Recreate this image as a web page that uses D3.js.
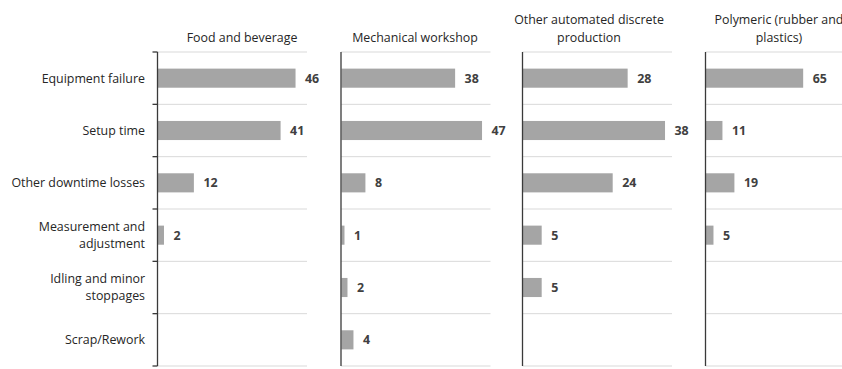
<!DOCTYPE html>
<html>
<head>
<meta charset="utf-8">
<script src="https://cdn.jsdelivr.net/npm/d3@7"></script>
<style>
  html, body { margin: 0; padding: 0; background: #fff; }
  svg { display: block; }
  text { font-family: "Open Sans", "Liberation Sans", sans-serif; }
</style>
</head>
<body>
<svg id="chart" width="842" height="369"></svg>
<script>
// Loss categories, top to bottom (line breaks as "\n")
const categories = [
  "Equipment failure",
  "Setup time",
  "Other downtime losses",
  "Measurement and\nadjustment",
  "Idling and minor\nstoppages",
  "Scrap/Rework"
];

// One panel per industry; null = no bar
const sectors = [
  "Food and beverage",
  "Mechanical workshop",
  "Other automated discrete\nproduction",
  "Polymeric (rubber and\nplastics)"
];
const foodBeverage      = [46, 41, 12, 2, null, null];
const mechanicalShop    = [38, 47, 8, 1, 2, 4];
const otherAutomated    = [28, 38, 24, 5, 5, null];
const polymeric         = [65, 11, 19, 5, null, null];
const seriesValues = [foodBeverage, mechanicalShop, otherAutomated, polymeric];

// Upper end of each panel's value axis
const axisMax = [50, 50, 40, 100];

// ---- layout ----
const plotTop = 52, plotBottom = 366;
const panelLeft = [157.5, 341, 522.5, 705.5];
const panelWidth = 149.5;
const titleCenter = [242, 415, 589, 779];

const svg = d3.select("#chart");

const y = d3.scaleBand()
  .domain(d3.range(categories.length))
  .range([plotTop, plotBottom])
  .paddingInner(0.635)
  .paddingOuter(0.3175);

const step = y.step();

// Category labels on the left
const catG = svg.append("g");
categories.forEach((c, i) => {
  const lines = c.split("\n");
  const cy = y(i) + y.bandwidth() / 2;
  const lh = 17;
  const t = catG.append("text")
    .attr("x", 145)
    .attr("text-anchor", "end")
    .attr("fill", "#262626")
    .style("font-size", "12.4px");
  lines.forEach((ln, k) => {
    t.append("tspan")
      .attr("x", 145)
      .attr("y", cy + (k - (lines.length - 1) / 2) * lh)
      .attr("dy", "0.35em")
      .text(ln);
  });
});

sectors.forEach((name, p) => {
  const x0 = panelLeft[p];
  const x = d3.scaleLinear().domain([0, axisMax[p]]).range([x0, x0 + panelWidth]);
  const g = svg.append("g");

  // horizontal gridlines at category boundaries
  const bounds = d3.range(categories.length + 1).map(i => plotTop + i * step);
  g.selectAll("line.grid").data(bounds).join("line")
    .attr("class", "grid")
    .attr("x1", x0).attr("x2", x0 + panelWidth)
    .attr("y1", d => d).attr("y2", d => d)
    .attr("stroke", "#d9d9d9").attr("stroke-width", 1);

  // bars
  const vals = seriesValues[p];
  const data = vals.map((v, i) => ({ v, i })).filter(d => d.v != null);
  g.selectAll("rect").data(data).join("rect")
    .attr("x", x(0) + 0.5)
    .attr("y", d => y(d.i))
    .attr("width", d => x(d.v) - x(0))
    .attr("height", y.bandwidth())
    .attr("fill", "#a5a5a5");

  // value labels
  g.selectAll("text.val").data(data).join("text")
    .attr("class", "val")
    .attr("x", d => x(d.v) + 10)
    .attr("y", d => y(d.i) + y.bandwidth() / 2)
    .attr("dy", "0.35em")
    .attr("fill", "#404040")
    .style("font-size", "12.4px")
    .style("font-weight", "bold")
    .text(d => d.v);

  // category axis line
  g.append("line")
    .attr("x1", x0).attr("x2", x0)
    .attr("y1", plotTop).attr("y2", plotBottom)
    .attr("stroke", "#3a3a3a").attr("stroke-width", 1.3);

  // tick marks on the first panel
  if (p === 0) {
    g.selectAll("line.tick").data(bounds).join("line")
      .attr("class", "tick")
      .attr("x1", x0 - 5).attr("x2", x0)
      .attr("y1", d => d).attr("y2", d => d)
      .attr("stroke", "#3a3a3a").attr("stroke-width", 1.3);
  }

  // panel title
  const lines = name.split("\n");
  const tt = g.append("text")
    .attr("text-anchor", "middle")
    .attr("fill", "#262626")
    .style("font-size", "12.4px");
  lines.forEach((ln, k) => {
    tt.append("tspan")
      .attr("x", titleCenter[p])
      .attr("y", 42 - (lines.length - 1 - k) * 18)
      .text(ln);
  });
});
</script>
</body>
</html>
